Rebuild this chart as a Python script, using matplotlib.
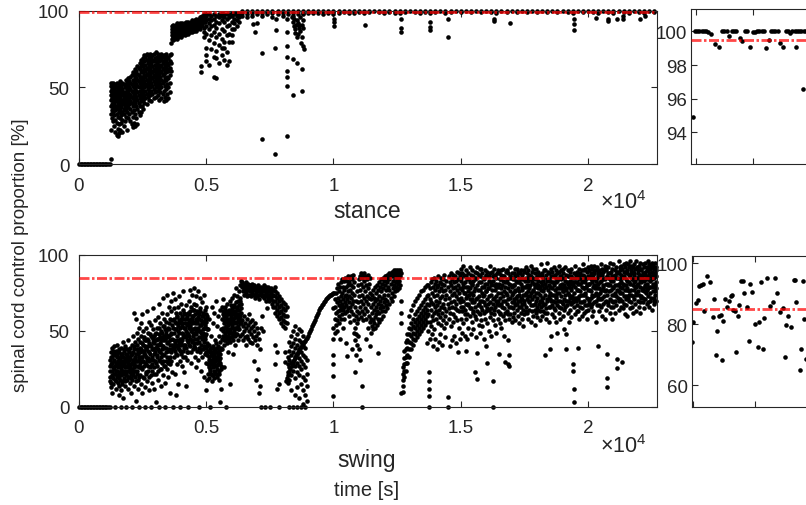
import matplotlib.pyplot as plt

plt.rcParams['font.family'] = ['Liberation Sans', 'DejaVu Sans']
plt.rcParams['mathtext.default'] = 'regular'

# Thresholds (red dash-dot lines)
STANCE_LIMIT = 99.5
SWING_LIMIT = 85

# ---- stance: spinal cord control proportion [%] vs time [s] ----
# each entry: (time, [proportions read at that time])
stance_idle_t = [0, 60, 120, 180, 240, 300, 360, 420, 480, 540, 600, 660, 720,
                 780, 840, 900, 960, 1020, 1080, 1140, 1200]
stance_first = [
    (1250, [3, 22, 33, 38, 42, 45, 48, 51, 53]), (1300, [30, 35, 39, 43, 46, 49, 52]),
    (1340, [28, 34, 37, 41, 44, 47, 50, 53]), (1390, [25, 32, 36, 40, 43, 46, 49, 52]),
    (1430, [21, 29, 35, 38, 42, 45, 48, 51]), (1480, [19, 27, 33, 37, 41, 44, 47, 50, 53]),
    (1520, [18, 23, 31, 36, 39, 43, 46, 49]), (1570, [20, 26, 34, 38, 41, 44, 48, 52]),
    (1610, [22, 30, 35, 40, 43, 46, 50, 54]), (1660, [27, 32, 37, 41, 45, 48, 51]),
    (1700, [21, 29, 34, 39, 42, 46, 49, 53]), (1750, [25, 33, 36, 40, 44, 47, 52]),
    (1790, [28, 35, 38, 42, 45, 50]), (1840, [31, 36, 40, 43, 47, 51, 55]),
    (1890, [22, 34, 38, 41, 45, 49, 53]), (1930, [30, 37, 40, 44, 48, 52, 56]),
    (1980, [33, 39, 43, 46, 50, 54]), (2020, [28, 36, 41, 45, 49, 53, 57]),
    (2070, [26, 34, 40, 44, 48, 52, 58]), (2110, [24, 31, 38, 43, 47, 51, 55, 60]),
    (2160, [27, 35, 42, 46, 50, 54, 59]), (2200, [25, 33, 40, 45, 49, 53, 57, 62]),
    (2250, [30, 38, 44, 48, 52, 56, 61]), (2290, [26, 36, 42, 47, 51, 55, 59, 64]),
    (2340, [34, 40, 45, 50, 54, 58, 63]), (2380, [32, 38, 43, 48, 53, 57, 62, 66]),
]
stance_second = [
    (2430, [34, 41, 46, 51, 55, 60, 64, 68]), (2480, [38, 44, 49, 53, 57, 61, 66]),
    (2520, [36, 42, 47, 52, 56, 60, 64, 69]), (2570, [40, 45, 50, 54, 58, 62, 67, 71]),
    (2610, [43, 48, 52, 57, 61, 65, 70]), (2660, [39, 46, 51, 55, 59, 63, 68, 72]),
    (2700, [44, 49, 53, 58, 62, 66, 71]), (2750, [42, 47, 52, 56, 60, 64, 69]),
    (2790, [45, 50, 55, 59, 63, 67, 72]), (2840, [41, 48, 53, 57, 61, 66, 70]),
    (2880, [46, 51, 56, 60, 64, 68, 71]), (2930, [43, 49, 54, 58, 62, 67, 72]),
    (2970, [47, 52, 57, 61, 65, 69]), (3020, [44, 50, 55, 59, 63, 68, 73]),
    (3060, [48, 53, 58, 62, 66, 70]), (3110, [45, 51, 56, 60, 64, 69, 72]),
    (3150, [42, 49, 54, 59, 63, 67, 71]), (3200, [47, 52, 57, 61, 65, 70]),
    (3240, [43, 50, 55, 60, 64, 68, 72]), (3290, [46, 53, 58, 62, 66, 70]),
    (3330, [41, 48, 54, 59, 63, 67, 71]), (3380, [44, 51, 56, 61, 65, 69]),
    (3420, [42, 49, 55, 60, 64, 68, 72]), (3470, [46, 52, 57, 62, 66, 70]),
    (3510, [43, 50, 56, 61, 65, 69]), (3560, [47, 53, 58, 63, 67, 71]),
    (3610, [61, 66, 72, 79]),
]
stance_plateau = [
    (3650, [82, 84, 86, 88, 90]), (3700, [81, 83, 85, 87, 89, 91]), (3750, [82, 84, 86, 88, 90]),
    (3800, [83, 85, 87, 89, 91]), (3850, [82, 84, 86, 88, 90, 92]), (3900, [83, 85, 87, 89, 91]),
    (3950, [84, 86, 88, 90, 92]), (4000, [83, 85, 87, 89, 91]), (4050, [84, 86, 88, 90, 92]),
    (4100, [85, 87, 89, 91]), (4150, [84, 86, 88, 90, 92]), (4200, [85, 87, 89, 91, 93]),
    (4250, [86, 88, 90, 92]), (4300, [85, 87, 89, 91, 93]), (4350, [86, 88, 90, 92]),
    (4400, [87, 89, 91, 93]), (4450, [86, 88, 90, 92, 94]), (4500, [87, 89, 91, 93]),
    (4550, [88, 90, 92, 94]), (4600, [87, 89, 91, 93, 95]), (4650, [88, 90, 92, 94]),
    (4700, [89, 91, 93, 95]), (4750, [88, 90, 92, 94, 96]), (4800, [64, 60, 90, 92, 94, 96]),
    (4850, [91, 93, 95, 97]), (4900, [83, 86, 89, 93, 96, 98]), (4950, [93, 95, 97]),
    (5000, [76, 71, 67, 85, 90, 94, 97, 98]), (5100, [65, 81, 88, 92, 95, 98]),
    (5200, [75, 84, 90, 94, 97]), (5300, [57, 70, 79, 86, 91, 95, 98]),
    (5400, [69, 56, 74, 83, 89, 93, 97]), (5500, [66, 78, 85, 92, 96, 98]),
    (5600, [71, 76, 82, 88, 94, 97, 99]), (5700, [76, 68, 80, 87, 93, 96, 98]),
    (5800, [65, 73, 84, 90, 95, 98]), (5900, [67, 80, 85, 91, 96, 98]),
    (6000, [80, 84, 88, 93, 97, 99]), (6100, [88, 92, 95, 98, 99]),
    (6200, [90, 94, 97, 99]), (6300, [93, 96, 98, 99]),
]
stance_steady = [
    (6400, [97, 99, 100]), (6600, [96, 98, 100]), (6800, [97, 99, 100]), (7000, [98, 99.5, 100]),
    (7200, [97, 99, 100]), (7400, [98, 99.5, 100]), (7600, [96, 99, 100]), (7800, [98, 100]),
    (8000, [97, 99, 100]), (8200, [98, 100]), (8400, [97, 99, 100]), (8600, [98, 100]),
    (8800, [98, 99, 100]), (9000, [99, 100]), (9200, [98.5, 100]), (9400, [99, 100]),
    (9600, [98, 100]), (9800, [99, 100]), (10000, [98, 99.5, 100]), (10200, [99, 100]),
    (10400, [99.5, 100]), (10600, [99, 100]), (10800, [98.5, 100]), (11000, [99.5, 100]),
    (11200, [99, 100]), (11400, [99.5, 100]), (11600, [100]), (11800, [99.5, 100]),
    (12000, [99, 100]), (12200, [99.5, 100]), (12400, [99, 100]), (12600, [98.5, 100]),
    (12800, [99.5, 100]), (13000, [100]), (13200, [99.5, 100]), (13400, [99, 100]),
    (13600, [99.5, 100]), (13800, [98.5, 100]), (14000, [99.5, 100]), (14200, [100]),
    (14400, [99, 100]), (14600, [99.5, 100]), (14800, [100]), (15000, [99.5, 100]),
    (15200, [100]), (15400, [99.5, 100]), (15600, [100]), (15800, [99.5, 100]),
    (16000, [100]), (16200, [99.5, 100]), (16400, [99, 100]), (16600, [100]),
    (16800, [99.5, 100]), (17000, [100]), (17200, [99.5, 100]), (17400, [100]),
    (17600, [99.5, 100]), (17800, [100]), (18000, [99.5, 100]), (18200, [100]),
    (18400, [99.5, 100]), (18600, [100]), (18800, [99.5, 100]), (19000, [100]),
    (19200, [99.5, 100]), (19400, [99, 100]), (19600, [100]), (19800, [99.5, 100]),
    (20000, [100]), (20200, [99.5, 100]), (20400, [99, 100]), (20600, [100]),
    (20800, [99.5, 100]), (21000, [99, 100]), (21200, [100]), (21400, [99.5, 100]),
    (21600, [99, 100]), (21800, [100]), (22000, [99.5, 100]), (22200, [99, 100]),
    (22400, [100]), (22600, [99.5, 100]),
]
stance_dips = [
    (6850, 91.5), (6930, 86), (7000, 92), (7210, 72.3), (7210, 16.3), (7700, 6.5),
    (7720, 76), (7750, 87.6), (7750, 95), (8180, 18.6), (8180, 50.8), (8180, 57),
    (8180, 61), (8180, 70), (8180, 77), (8180, 86), (8180, 95), (8350, 96),
    (8400, 93), (8420, 68.5), (8420, 45), (8450, 90), (8450, 95), (8480, 85.5),
    (8500, 88), (8530, 91), (8550, 66), (8550, 94), (8560, 82.8), (8600, 85),
    (8600, 92), (8650, 91), (8650, 89), (8700, 87), (8700, 96), (8740, 79),
    (8750, 83), (8750, 91), (8770, 62), (8770, 47.6), (8800, 77), (8800, 89),
    (8800, 94), (8830, 75), (10020, 90.4), (10020, 93), (10020, 95), (11230, 90.8),
    (12650, 86.5), (12650, 88.7), (12650, 94.8), (13800, 87.8), (13800, 89.5),
    (13800, 92.6), (14490, 83.2), (14490, 95), (16300, 93.7), (16300, 95),
    (16940, 92), (19460, 87.8), (19460, 91.5), (19460, 94.8), (20300, 95.4),
    (20770, 93.7), (20770, 95), (21120, 95), (21380, 95), (21380, 97),
    (22040, 95), (22240, 97),
]

# ---- swing ----
swing_idle_t = [0, 60, 120, 180, 240, 300, 360, 420, 480, 540, 600, 660, 720,
                780, 840, 900, 960, 1020, 1080, 1140, 1200]
swing_early = [
    (1215, [24, 31, 17]), (1248, [36, 28, 13]), (1290, [21, 39, 33, 9]), (1326, [26, 15, 35]),
    (1361, [30, 22, 40]), (1402, [18, 34, 27, 0]), (1437, [37, 24, 12]), (1476, [29, 20, 41, 33]),
    (1518, [16, 26, 36]), (1553, [32, 23, 8]), (1591, [38, 19, 28, 14]), (1634, [25, 34, 0]),
    (1668, [21, 30, 39, 11]), (1707, [27, 17, 35]), (1745, [33, 24, 43, 6]), (1788, [19, 29, 37]),
    (1822, [26, 14, 32, 40]), (1864, [35, 22, 0]), (1899, [18, 30, 27, 38]), (1941, [24, 33, 12, 44]),
    (1976, [31, 20, 36]), (2017, [16, 27, 39, 25]), (2053, [34, 22, 9]), (2094, [29, 41, 18, 0]),
    (2130, [23, 36, 47, 31]), (2171, [38, 26, 14, 62]), (2209, [20, 32, 43]), (2248, [35, 27, 4, 58]),
    (2287, [41, 24, 30, 49]), (2325, [18, 37, 45, 12]), (2366, [33, 26, 52, 0]),
    (2402, [29, 43, 21, 36]), (2440, [47, 15, 38, 55]), (2479, [25, 33, 9, 61]), (2517, [41, 30, 50]),
    (2556, [19, 36, 27, 46]), (2598, [34, 44, 13, 0]), (2633, [28, 52, 39, 22]), (2672, [45, 31, 63, 17]),
    (2713, [37, 24, 49]), (2750, [30, 42, 11, 56]), (2789, [48, 35, 26]), (2829, [21, 40, 54, 0]),
    (2866, [33, 46, 28, 16]), (2907, [43, 38, 65, 51]), (2945, [26, 35, 12, 47]), (2984, [39, 30, 57]),
    (3023, [44, 22, 49, 3]), (3062, [34, 52, 27, 41]), (3101, [18, 45, 38, 59]), (3140, [31, 48, 0, 68]),
    (3179, [42, 25, 55, 36]), (3218, [50, 33, 14, 44]), (3257, [38, 46, 29, 62]), (3296, [53, 21, 40, 72]),
    (3335, [34, 47, 58, 27]), (3374, [44, 16, 51, 0]), (3413, [30, 56, 39, 48]), (3452, [46, 25, 61, 74]),
    (3491, [37, 52, 20, 43]), (3530, [55, 31, 47, 66]), (3569, [41, 28, 58, 9]), (3608, [49, 36, 63, 70]),
    (3647, [23, 45, 54, 38]), (3686, [52, 40, 0, 75]),
]
swing_early_fill = [
    (1230, [27, 20]), (1270, [33, 16]), (1310, [24, 29]), (1345, [19, 37]), (1382, [31, 25]),
    (1420, [22, 35]), (1457, [28, 17]), (1497, [34, 24]), (1535, [21, 30]), (1572, [27, 36]),
    (1612, [18, 32]), (1650, [29, 23]), (1688, [35, 15]), (1726, [22, 30]), (1766, [28, 38]),
    (1805, [24, 17]), (1843, [31, 21]), (1882, [26, 34]), (1920, [20, 29]), (1958, [37, 27]),
    (1997, [23, 32]), (2035, [28, 19]), (2074, [35, 25]), (2112, [21, 30]), (2150, [28, 40]),
    (2190, [33, 24]), (2228, [17, 30]), (2268, [38, 22]), (2306, [27, 35]), (2345, [31, 20]),
    (2384, [39, 26]), (2421, [33, 26]), (2460, [42, 30]), (2498, [20, 37]), (2537, [35, 45]),
    (2577, [29, 40]), (2615, [23, 38]), (2652, [33, 44]), (2692, [27, 40]), (2731, [44, 32]),
    (2770, [36, 20]), (2809, [41, 31]), (2848, [27, 47]), (2886, [38, 24]), (2926, [31, 45]),
    (2964, [42, 22]), (3004, [36, 48]), (3043, [29, 39]), (3082, [45, 33]), (3120, [24, 41]),
    (3160, [37, 52]), (3199, [30, 46]), (3238, [41, 25]), (3277, [35, 49]), (3316, [44, 30]),
    (3355, [39, 53]), (3394, [27, 45]), (3433, [50, 36]), (3472, [33, 42]), (3511, [47, 29]),
    (3550, [38, 51]), (3589, [44, 33]), (3628, [30, 48]), (3667, [41, 57]),
]
swing_middle = [
    (3725, [44, 58, 33, 65]), (3762, [51, 37, 22, 71]), (3801, [40, 55, 62, 8]), (3840, [47, 34, 59, 28]),
    (3879, [53, 41, 66, 15]), (3918, [38, 57, 49, 73]), (3957, [45, 30, 62, 0]), (3996, [56, 42, 35, 68]),
    (4035, [49, 60, 27, 53]), (4074, [37, 46, 64, 76]), (4113, [58, 41, 52, 23]), (4152, [33, 55, 47, 61]),
    (4191, [50, 39, 67, 14]), (4230, [44, 59, 31, 54]), (4269, [62, 48, 36, 0]), (4308, [41, 57, 70, 52]),
    (4347, [53, 45, 63, 77]), (4386, [36, 50, 58, 29]), (4425, [60, 43, 55, 74]), (4464, [47, 64, 38, 51]),
    (4503, [56, 40, 68, 78]), (4542, [33, 52, 61, 45]), (4581, [58, 48, 26, 73]), (4620, [42, 63, 55, 37]),
    (4659, [50, 59, 31, 76]), (4698, [46, 61, 39, 0]), (4737, [54, 36, 65, 72]), (4776, [41, 57, 49, 24]),
    (4815, [60, 45, 33, 69]), (4854, [51, 38, 62, 56]), (4893, [43, 55, 20, 74]), (4932, [58, 47, 35, 64]),
    (4971, [39, 52, 61, 11]), (5010, [48, 56, 29, 66]), (5049, [42, 34, 60, 18]),
    (5088, [28, 37, 22, 51]), (5127, [33, 19, 41, 58]), (5166, [25, 36, 30, 0]), (5205, [39, 22, 28, 47]),
    (5244, [31, 17, 35, 66]), (5283, [26, 40, 21, 55]), (5322, [34, 29, 19, 62]), (5361, [23, 38, 32, 44]),
    (5400, [36, 27, 42, 70]), (5439, [20, 31, 25, 53]), (5478, [40, 34, 28, 60]), (5517, [24, 37, 18, 47]),
    (5556, [32, 43, 3, 64]), (5595, [27, 39, 51, 12]),
    (5634, [45, 58, 38, 66]), (5673, [52, 63, 47, 71]), (5712, [41, 55, 60, 26]), (5751, [49, 66, 57, 44]),
    (5790, [62, 46, 53, 0]), (5829, [56, 42, 68, 50]), (5868, [47, 61, 54, 36]), (5907, [64, 51, 58, 44]),
    (5946, [43, 57, 70, 15]), (5985, [60, 49, 55, 67]), (6024, [53, 65, 46, 72]), (6063, [58, 44, 61, 35]),
    (6102, [50, 67, 56, 74]), (6141, [63, 47, 59, 41]), (6180, [55, 69, 52, 78]), (6219, [61, 48, 66, 73]),
    (6258, [57, 70, 53, 44]), (6297, [64, 51, 76, 59]), (6336, [60, 72, 80, 47]), (6375, [68, 55, 83, 62]),
    (6414, [79, 82, 48, 57]), (6453, [76, 81, 53, 44]), (6492, [78, 74, 60, 50]), (6531, [80, 77, 46, 55]),
    (6570, [75, 82, 52, 41]), (6609, [79, 73, 58, 47]), (6648, [77, 81, 45, 54]), (6687, [74, 79, 50, 61]),
    (6726, [80, 76, 43, 56]), (6765, [78, 73, 52, 48]), (6804, [75, 81, 57, 42]), (6843, [79, 77, 46, 53]),
    (6882, [74, 80, 50, 30]), (6921, [77, 72, 55, 44]), (6960, [79, 75, 47, 18]), (6999, [73, 78, 52, 41]),
    (7038, [76, 80, 25, 49]), (7077, [74, 71, 45, 9]), (7116, [78, 76, 38, 14]), (7155, [75, 79, 52, 0]),
    (7194, [77, 73, 60]), (7233, [74, 78, 50]), (7272, [76, 72, 80]), (7311, [73, 77, 0]),
    (7350, [75, 79, 70]), (7389, [74, 77, 65]), (7428, [72, 76, 79]), (7467, [74, 70, 77]),
    (7506, [73, 76, 0]), (7545, [71, 75, 78]), (7584, [68, 73, 77]), (7620, [66, 70, 74, 77]),
    (7700, [28, 41, 62, 66, 70, 73, 76, 79]), (7780, [12, 36, 60, 64, 68, 72, 75]),
    (7860, [0, 15, 58, 62, 66, 70, 73]), (7940, [55, 59, 63, 67, 71]),
    (8020, [53, 57, 61, 65, 69]), (8100, [29.5, 36, 52, 56, 60, 64, 68]),
    (8180, [55, 60, 66]), (8200, [16, 23, 28, 33]), (8260, [0, 18, 26, 31, 37, 43]),
    (8340, [11, 21, 29, 34, 40, 47]), (8420, [0, 24, 30, 36, 42, 50]),
    (8500, [8, 19, 27, 33, 39, 45, 53]), (8580, [0, 13, 23, 29, 35, 41, 48]),
    (8660, [6, 21, 27, 32, 38, 44, 51]), (8740, [0, 15, 25, 30, 36, 43, 50]),
    (8820, [2, 11, 20, 28, 34, 40, 47]), (8900, [0, 8, 18, 26, 33, 39]),
    (8960, [4, 14, 22, 31]),
]
swing_middle_fill = [
    (3745, [49, 38]), (3782, [56, 42]), (3820, [35, 51]), (3860, [44, 60]), (3899, [50, 39]),
    (3938, [43, 55]), (3977, [52, 37]), (4016, [41, 58]), (4055, [55, 44]), (4094, [48, 33]),
    (4133, [39, 62]), (4172, [52, 41]), (4211, [58, 46]), (4250, [36, 49]), (4289, [55, 43]),
    (4328, [47, 61]), (4367, [40, 56]), (4406, [51, 66]), (4445, [44, 58]), (4484, [60, 49]),
    (4523, [42, 64]), (4562, [55, 39]), (4601, [50, 67]), (4640, [45, 56]), (4679, [62, 52]),
    (4718, [43, 58]), (4757, [50, 63]), (4796, [38, 54]), (4835, [56, 47]), (4874, [49, 60]),
    (4913, [40, 52]), (4952, [54, 45]), (4991, [36, 58]), (5030, [51, 40]),
    (5108, [26, 31]), (5147, [38, 24]), (5186, [29, 34]), (5225, [21, 36]), (5264, [33, 27]),
    (5303, [24, 38]), (5342, [30, 36]), (5381, [27, 22]), (5420, [33, 39]), (5459, [28, 36]),
    (5498, [22, 31]), (5537, [35, 29]), (5576, [25, 38]),
    (5654, [50, 61]), (5693, [44, 57]), (5732, [52, 64]), (5771, [47, 60]), (5810, [58, 51]),
    (5849, [45, 63]), (5888, [55, 49]), (5927, [50, 62]), (5966, [57, 46]), (6005, [52, 63]),
    (6044, [48, 58]), (6083, [55, 66]), (6122, [52, 61]), (6161, [59, 48]), (6200, [56, 64]),
    (6239, [51, 60]), (6278, [61, 67]), (6317, [55, 70]), (6356, [65, 57]),
]
# the smooth recovery arc between ~8.1e3 s and 1e4 s
swing_arc = [
    (8150, 17), (8190, 19), (8230, 21), (8270, 23), (8310, 25), (8350, 27), (8390, 29),
    (8430, 31), (8470, 32.5), (8510, 34), (8550, 35), (8590, 36.5), (8630, 37.5),
    (8670, 38.5), (8710, 39.5), (8750, 40.5), (8790, 41.5), (8830, 42.5), (8870, 43.5),
    (8910, 44.5), (8950, 45.5), (8990, 47), (9030, 48.5), (9070, 50), (9110, 51.5),
    (9150, 53), (9190, 54.5), (9230, 56), (9270, 57.5), (9310, 59), (9350, 60.5),
    (9390, 62), (9430, 63.5), (9470, 65), (9510, 66), (9550, 67), (9590, 68),
    (9630, 69), (9670, 70), (9710, 70.8), (9750, 71.5), (9790, 72.2), (9830, 72.9),
    (9870, 73.5), (9910, 74), (9950, 74.5), (9990, 75), (10020, 75.3),
]
swing_late = [
    (10000, [7.5, 20.6, 28, 34, 45, 52, 65]), (10040, [58, 49, 66, 71]), (10080, [62, 54, 75]),
    (10120, [69, 57, 78, 50]), (10160, [63, 72, 81]), (10200, [55, 67, 76, 60]),
    (10240, [70, 64, 79, 45]), (10280, [58, 73, 82, 66]), (10320, [75, 61, 68, 84]),
    (10360, [52, 71, 79, 64]), (10400, [77, 66, 83, 58]), (10440, [62, 73, 85, 69]),
    (10480, [79, 42, 67, 74]), (10520, [33.8, 71, 83, 63]), (10560, [76, 65, 86, 80]),
    (10600, [69, 82, 73, 60]), (10640, [85, 56, 77, 66]), (10680, [72, 80, 63, 86]),
    (10720, [38, 75, 84, 68]), (10760, [79, 70, 87, 61]), (10800, [57, 82, 74, 49]),
    (10840, [66, 52, 44, 23.3]), (10880, [60, 34, 70, 48]), (10920, [55, 63, 76, 41]),
    (10960, [69, 58, 80, 47]), (11000, [62, 73, 84, 38]), (11040, [77, 66, 31, 86]),
    (11080, [70, 81, 59, 88]), (11120, [74, 63, 85, 0, 13.6]), (11160, [79, 68, 87, 57]),
    (11200, [83, 72, 61, 88]), (11240, [76, 86, 65]), (11280, [58, 80, 70, 45]),
    (11320, [84, 73, 63]), (11360, [68, 78, 52, 87]), (11400, [81, 60, 72]),
    (11440, [56, 75, 85, 40]), (11480, [49, 58, 66, 71]), (11520, [53, 62, 74]),
    (11560, [57, 51, 68, 77]), (11600, [64, 55, 72]), (11640, [59, 70, 52, 79]),
    (11680, [66, 75, 61]), (11720, [54, 63, 71, 80]), (11760, [35.5, 68, 58, 77]),
    (11800, [62, 73, 82, 56]), (11840, [70, 65, 79]), (11880, [58, 76, 67, 84]),
    (11920, [72, 63, 81]), (11960, [66, 78, 60, 85]), (12000, [74, 69, 83]),
    (12040, [63, 80, 71, 86]), (12080, [77, 67, 84]), (12120, [70, 82, 65, 87]),
    (12160, [79, 74, 86]), (12200, [68, 84, 77, 88]), (12240, [81, 72, 87]),
    (12280, [75, 86, 70, 89]), (12320, [83, 78, 89]), (12360, [73, 87, 80, 90]),
    (12400, [85, 76, 89]), (12440, [79, 88, 82, 90]), (12480, [77, 86, 84]),
    (12520, [81, 89, 85, 90]), (12560, [78, 87, 83]), (12600, [86, 80, 89, 90]),
    (12640, [9, 55, 62, 70, 88]),
    (12720, [10, 14, 18, 22, 26]), (12780, [20, 24, 28, 32, 37]),
    (12840, [24, 29, 33, 38, 43]), (12900, [29, 34, 39, 44, 48]),
    (12960, [33, 38, 43, 48, 52, 60]), (13040, [38, 42, 47, 51, 55, 64]),
    (13120, [41, 45, 49, 53, 58, 67]), (13200, [44, 48, 52, 56, 61, 70]),
    (13280, [46, 50, 54, 58, 63, 72]), (13360, [48, 52, 56, 60, 65, 74]),
    (13440, [50, 54, 58, 62, 67, 76]), (13520, [52, 56, 60, 64, 69, 77]),
    (13600, [54, 58, 62, 66, 71, 79]), (13680, [42, 56, 60, 64, 68, 73, 80]),
    (13720, [61, 74, 50, 80]), (13760, [0, 7.5, 11.9, 17.4, 22.8, 67]), (13800, [56, 71, 78, 45]),
    (13840, [64, 53, 82, 69]), (13880, [75, 60, 48, 84]), (13920, [68, 40, 79, 57]),
    (13960, [62, 73, 85, 51]), (14000, [77, 66, 45, 81]), (14040, [58, 70, 83, 63]),
    (14080, [74, 38, 67, 79]), (14120, [61, 80, 55, 86]), (14160, [69, 43, 76, 64]),
    (14200, [82, 72, 59, 48]), (14240, [66, 78, 54, 85]), (14280, [73, 62, 81, 41]),
    (14320, [57, 76, 68, 84]), (14360, [80, 65, 52, 87]), (14400, [71, 46, 77, 60]),
    (14440, [63, 83, 74, 55]), (14490, [0, 6.4, 68, 79]), (14520, [58, 72, 86, 65]),
    (14560, [76, 40, 62, 82]), (14600, [69, 80, 53, 88]), (14640, [74, 44, 66, 84]),
    (14680, [61, 78, 87, 56]), (14720, [82, 70, 47, 75]), (14760, [65, 86, 59, 79]),
    (14800, [73, 42, 83, 68]), (14840, [57, 77, 89, 64]), (14880, [36, 71, 84, 80]),
    (14920, [63, 75, 88, 52]), (14960, [78, 45, 69, 86]),
]
swing_final = [
    (15000, [72, 58, 85, 66, 91]), (15050, [49, 77, 63, 88]), (15100, [81, 55, 70, 93]),
    (15150, [64, 86, 47, 75]), (15200, [37, 79, 68, 90, 58]), (15250, [45, 73, 84, 61]),
    (15300, [88, 52, 76, 67]), (15350, [60, 82, 71, 92]), (15400, [75, 48, 87, 65]),
    (15450, [69, 90, 56, 80]), (15500, [83, 62, 74, 51]), (15550, [22.8, 78, 66, 89]),
    (15600, [58, 85, 71, 46]), (15650, [18.4, 35.5, 80, 63, 92]), (15700, [73, 54, 87, 68]),
    (15750, [86, 61, 77, 49]), (15800, [66, 91, 57, 82]), (15850, [79, 70, 88, 53]),
    (15900, [62, 84, 74, 45]), (15950, [90, 67, 58, 81]), (16000, [40, 76, 86, 63]),
    (16050, [29, 71, 55, 89]), (16100, [83, 64, 78, 50]), (16150, [59, 88, 69, 93]),
    (16200, [74, 47, 82, 65]), (16250, [0, 17, 68, 86, 57]), (16300, [80, 61, 91, 72]),
    (16350, [54, 77, 66, 87]), (16400, [85, 70, 49, 79]), (16450, [63, 90, 75, 58]),
    (16500, [35, 81, 67, 88]), (16550, [72, 55, 84, 62]), (16600, [87, 68, 78, 52]),
    (16650, [60, 83, 73, 91]), (16700, [76, 47, 86, 65]), (16750, [29.5, 70, 82, 57]),
    (16800, [84, 63, 74, 90]), (16850, [28.5, 44, 78, 88]), (16900, [27, 34, 66, 81, 58]),
    (16950, [72, 86, 61, 92]), (17000, [79, 56, 69, 88]), (17050, [65, 84, 75, 59]),
    (17100, [88, 71, 62, 80]), (17150, [57, 77, 86, 67]), (17200, [82, 64, 73, 91]),
    (17250, [70, 89, 60, 78]), (17300, [85, 66, 76, 55]), (17350, [62, 81, 72, 90]),
    (17400, [77, 58, 87, 68]), (17450, [53, 74, 84, 64]), (17500, [89, 70, 79, 61]),
    (17550, [66, 85, 75, 92]), (17600, [80, 62, 71, 88]), (17650, [73, 90, 58, 83]),
    (17700, [64, 78, 87, 69]), (17750, [86, 56, 75, 93]), (17800, [71, 82, 63, 89]),
    (17850, [60, 76, 85, 67]), (17900, [84, 68, 79, 54]), (17950, [75, 91, 62, 81]),
    (18000, [66, 86, 72, 59]), (18050, [89, 78, 64, 83]), (18100, [57, 74, 87, 70]),
    (18150, [82, 94, 66, 77]), (18200, [69, 80, 60, 88]), (18250, [76, 63, 85, 72]),
    (18300, [34.3, 90, 68, 81]), (18350, [58, 79, 87, 65]), (18400, [84, 71, 95, 62]),
    (18450, [73, 88, 56, 80]), (18500, [38, 66, 83, 75]), (18550, [47, 86, 70, 91]),
    (18600, [61, 78, 67, 89]), (18650, [82, 74, 59, 92]), (18700, [69, 87, 77, 64]),
    (18750, [85, 56, 72, 90]), (18800, [75, 67, 83, 49]), (18850, [62, 89, 78, 93]),
    (18900, [80, 70, 86, 58]), (18950, [73, 84, 65, 90]), (19000, [88, 60, 76, 68]),
    (19050, [51, 79, 85, 71]), (19100, [83, 66, 92, 74]), (19150, [38, 48, 77, 87]),
    (19200, [70, 81, 62, 90]), (19250, [86, 74, 56, 79]), (19300, [64, 89, 72, 83]),
    (19350, [78, 59, 86, 68]), (19400, [24, 28.5, 82, 71]), (19450, [3.2, 11.9, 66, 88, 75]),
    (19500, [85, 61, 79, 93]), (19550, [72, 89, 67, 82]), (19600, [39, 77, 86, 63]),
    (19650, [58, 84, 73, 91]), (19700, [81, 69, 88, 76]), (19750, [65, 90, 79, 60]),
    (19800, [87, 74, 83, 94]), (19850, [70, 62, 86, 78]), (19900, [84, 91, 67, 75]),
    (19950, [58, 80, 89, 72]), (20000, [77, 86, 64, 92]), (20050, [90, 71, 81, 68]),
    (20100, [66, 84, 76, 88]), (20150, [82, 60, 91, 74]), (20200, [73, 87, 79, 63]),
    (20250, [88, 69, 84, 93]), (20300, [56, 80, 75, 90]), (20350, [85, 67, 92, 78]),
    (20400, [40, 74, 88, 81]), (20450, [63, 90, 71, 86]), (20500, [83, 77, 94, 66]),
    (20550, [72, 87, 60, 91]), (20600, [89, 79, 68, 84]), (20650, [58, 85, 76, 93]),
    (20700, [81, 70, 90, 64]), (20750, [13, 19, 34.9, 86, 74]), (20800, [67, 92, 80, 88]),
    (20850, [84, 71, 95, 62]), (20900, [77, 89, 66, 83]), (20950, [91, 74, 86, 58]),
    (21000, [69, 83, 78, 94]), (21050, [87, 62, 90, 75]), (21100, [73, 85, 67, 92]),
    (21150, [25.4, 31.6, 80, 89]), (21200, [64, 88, 76, 96]), (21250, [90, 71, 84, 79]),
    (21300, [82, 93, 66, 87]), (21350, [29.5, 75, 91, 70]), (21400, [86, 68, 80, 94]),
    (21450, [61, 89, 77, 92]), (21500, [84, 73, 95, 67]), (21550, [78, 90, 83, 60]),
    (21600, [92, 70, 87, 76]), (21650, [65, 86, 81, 96]), (21700, [88, 74, 93, 69]),
    (21750, [80, 62, 89, 84]), (21800, [94, 77, 71, 87]), (21850, [68, 91, 83, 79]),
    (21900, [85, 75, 96, 63]), (21950, [90, 81, 70, 88]), (22000, [74, 93, 86, 66]),
    (22050, [87, 62, 79, 95]), (22100, [82, 91, 72, 85]), (22150, [69, 88, 94, 78]),
    (22200, [92, 76, 83, 65]), (22250, [80, 95, 71, 89]), (22300, [86, 68, 92, 77]),
    (22350, [73, 90, 84, 96]), (22400, [94, 79, 66, 88]), (22450, [83, 91, 75, 70]),
    (22500, [89, 64, 86, 95]), (22550, [76, 93, 81, 87]), (22600, [91, 72, 85, 68]),
    (22650, [80, 95, 88, 76]), (22690, [86, 70, 92, 82]),
]
swing_final_fill = [
    (15025, [70, 83]), (15075, [66, 79]), (15125, [75, 87]), (15175, [61, 82]), (15225, [72, 86]),
    (15275, [68, 79]), (15325, [84, 74]), (15375, [65, 78]), (15425, [81, 71]), (15475, [63, 86]),
    (15525, [76, 69]), (15575, [84, 60]), (15625, [72, 88]), (15675, [67, 77]), (15725, [82, 62]),
    (15775, [70, 91]), (15825, [75, 64]), (15875, [85, 73]), (15925, [69, 79]), (15975, [76, 87]),
    (16025, [65, 81]), (16075, [78, 68]), (16125, [86, 73]), (16175, [62, 80]), (16225, [77, 89]),
    (16275, [71, 83]), (16325, [64, 86]), (16375, [81, 73]), (16425, [68, 88]), (16475, [79, 70]),
    (16525, [84, 61]), (16575, [75, 90]), (16625, [66, 80]), (16675, [86, 70]), (16725, [62, 79]),
    (16775, [75, 89]), (16825, [68, 82]), (16875, [71, 61]), (16925, [85, 76]), (16975, [66, 80]),
    (17025, [74, 85]), (17075, [69, 80]), (17125, [76, 91]), (17175, [72, 83]), (17225, [87, 68]),
    (17275, [74, 82]), (17325, [70, 88]), (17375, [84, 66]), (17425, [79, 71]), (17475, [68, 90]),
    (17525, [74, 83]), (17575, [63, 79]), (17625, [85, 76]), (17675, [70, 86]), (17725, [80, 73]),
    (17775, [67, 84]), (17825, [77, 91]), (17875, [73, 81]), (17925, [88, 64]), (17975, [70, 85]),
    (18025, [80, 75]), (18075, [68, 87]), (18125, [79, 63]), (18175, [72, 86]), (18225, [83, 67]),
    (18275, [78, 90]), (18325, [74, 62]), (18375, [83, 70]), (18425, [77, 89]), (18475, [66, 84]),
    (18525, [79, 71]), (18575, [74, 82]), (18625, [86, 70]), (18675, [65, 80]), (18725, [82, 73]),
    (18775, [78, 88]), (18825, [70, 84]), (18875, [75, 66]), (18925, [86, 78]), (18975, [69, 81]),
    (19025, [76, 91]), (19075, [64, 80]), (19125, [78, 70]), (19175, [82, 67]), (19225, [75, 86]),
    (19275, [69, 81]), (19325, [77, 91]), (19375, [73, 85]), (19425, [80, 69]), (19475, [82, 72]),
    (19525, [70, 87]), (19575, [77, 63]), (19625, [81, 71]), (19675, [66, 87]), (19725, [74, 84]),
    (19775, [82, 69]), (19825, [78, 90]), (19875, [74, 82]), (19925, [79, 63]), (19975, [85, 67]),
    (20025, [70, 81]), (20075, [77, 86]), (20125, [72, 93]), (20175, [86, 68]), (20225, [80, 90]),
    (20275, [74, 78]), (20325, [83, 70]), (20375, [72, 87]), (20425, [78, 67]), (20475, [82, 75]),
    (20525, [71, 88]), (20575, [80, 77]), (20625, [73, 90]), (20675, [84, 69]), (20725, [77, 92]),
    (20775, [69, 81]), (20825, [76, 85]), (20875, [80, 88]), (20925, [70, 84]), (20975, [79, 66]),
    (21025, [86, 74]), (21075, [80, 70]), (21125, [77, 88]), (21175, [72, 85]), (21225, [81, 70]),
    (21275, [75, 92]), (21325, [85, 78]), (21375, [81, 65]), (21425, [73, 89]), (21475, [80, 71]),
    (21525, [88, 77]), (21575, [72, 94]), (21625, [82, 74]), (21675, [77, 90]), (21725, [84, 66]),
    (21775, [73, 92]), (21825, [82, 88]), (21875, [74, 79]), (21925, [80, 92]), (21975, [76, 85]),
    (22025, [83, 69]), (22075, [90, 73]), (22125, [77, 86]), (22175, [84, 72]), (22225, [87, 79]),
    (22275, [75, 84]), (22325, [81, 90]), (22375, [78, 69]), (22425, [86, 93]), (22475, [79, 72]),
    (22525, [84, 92]), (22575, [70, 79]), (22625, [87, 74]), (22670, [78, 90]),
]

# ---- zoomed side panels (sample index, proportion) ----
stance_zoom = [
    (-0.58, 94.9), (-0.18, 100), (0.2, 100), (0.6, 100), (1.0, 100), (1.4, 100), (1.8, 100),
    (2.2, 99.95), (2.6, 99.85), (3.4, 99.25), (4.0, 99.1), (4.6, 100), (5.0, 100), (5.4, 100),
    (5.8, 99.75), (6.3, 100), (6.7, 100), (7.1, 100), (7.7, 99.6), (8.2, 99.45), (8.6, 100),
    (9.0, 100), (9.5, 99.05), (10.0, 99.95), (10.4, 99.95), (10.8, 100), (11.2, 100),
    (11.6, 100), (12.0, 100), (12.4, 99.0), (12.8, 99.5), (13.2, 100), (13.6, 100),
    (14.0, 100), (14.4, 100), (14.9, 99.3), (15.4, 99.1), (15.8, 100), (16.2, 100),
    (16.6, 99.9), (17.0, 100), (17.4, 100), (17.6, 99.1), (17.8, 100), (18.2, 100),
    (18.6, 100), (18.9, 96.6), (19.0, 100), (19.4, 100),
]
swing_zoom = [
    (-0.16, 74.0), (0.0, 80.8), (0.43, 86.9), (0.7, 88.0), (0.97, 92.4), (1.24, 92.8),
    (1.51, 93.0), (1.73, 84.4), (2.16, 95.6), (2.7, 93.9), (3.13, 82.2), (3.35, 88.2),
    (3.67, 69.8), (3.9, 77.8), (4.16, 82.7), (4.43, 83.0), (4.65, 68.2), (4.86, 81.0),
    (5.13, 88.2), (5.5, 85.7), (5.83, 87.6), (6.05, 89.3), (6.27, 89.6), (6.48, 84.7),
    (6.8, 84.4), (7.0, 70.7), (7.24, 82.7), (7.45, 86.2), (7.78, 94.1), (8.0, 94.2),
    (8.21, 90.1), (8.64, 85.7), (8.97, 74.5), (9.24, 93.0), (9.5, 90.6), (10.0, 79.9),
    (10.5, 72.4), (10.7, 80.8), (11.0, 93.7), (11.34, 71.8), (11.45, 82.0), (12.0, 95.0),
    (12.4, 85.8), (12.9, 87.1), (13.2, 95.0), (13.5, 90.1), (14.1, 83.8), (14.5, 85.4),
    (14.8, 69.1), (15.0, 79.7), (15.3, 82.7), (15.8, 79.1), (16.3, 94.5), (16.5, 94.5),
    (16.7, 87.3), (17.3, 65.0), (17.5, 71.8), (17.7, 94.2), (18.0, 81.6), (18.2, 68.5),
]

x_ticks = [0, 5000, 10000, 15000, 20000]
x_tick_labels = ['0', '0.5', '1', '1.5', '2']


def flatten(*groups):
    t, p = [], []
    for group in groups:
        for x, ys in group:
            t += [x] * len(ys)
            p += ys
    return t, p


AX_COLOR = '#262626'
LIMIT_STYLE = dict(color='red', lw=2, alpha=0.72, ls=(0, (3.6, 0.9, 0.9, 0.9)), zorder=3)
DOT_STYLE = dict(ls='none', marker='o', ms=3.3, mew=0, color='black', zorder=2)


def style_axes(ax, pad_y):
    for s in ax.spines.values():
        s.set_color(AX_COLOR)
        s.set_linewidth(0.8)
    ax.tick_params(direction='in', top=True, right=True, length=4.5, width=0.8,
                   colors=AX_COLOR, labelsize=13.5)
    ax.tick_params(axis='y', pad=pad_y)
    ax.tick_params(axis='x', pad=9)


fig = plt.figure(figsize=(8.06, 5.06), dpi=100)

# stance
ax1 = fig.add_axes([0.0980, 0.6739, 0.7171, 0.3024])
ax1.plot(stance_idle_t, [0] * len(stance_idle_t), clip_on=False, **DOT_STYLE)
t, p = flatten(stance_first, stance_second, stance_plateau, stance_steady)
ax1.plot(t, p, clip_on=False, **DOT_STYLE)
ax1.plot([d[0] for d in stance_dips], [d[1] for d in stance_dips], clip_on=False, **DOT_STYLE)
ax1.axhline(STANCE_LIMIT, **LIMIT_STYLE)
ax1.set_xlim(0, 22710)
ax1.set_ylim(0, 100)
ax1.set_xticks(x_ticks, x_tick_labels)
ax1.set_yticks([0, 50, 100])
style_axes(ax1, 7)

# swing
ax2 = fig.add_axes([0.0980, 0.1937, 0.7171, 0.3004])
ax2.plot(swing_idle_t, [0] * len(swing_idle_t), clip_on=False, **DOT_STYLE)
t, p = flatten(swing_early, swing_early_fill, swing_middle, swing_middle_fill,
               swing_late, swing_final, swing_final_fill)
ax2.plot(t, p, clip_on=False, **DOT_STYLE)
ax2.plot([d[0] for d in swing_arc], [d[1] for d in swing_arc], clip_on=False, **DOT_STYLE)
ax2.axhline(SWING_LIMIT, **LIMIT_STYLE)
ax2.set_xlim(0, 22710)
ax2.set_ylim(0, 100)
ax2.set_xticks(x_ticks, x_tick_labels)
ax2.set_yticks([0, 50, 100])
style_axes(ax2, 7)

# side panels (cut by the figure edge)
ax3 = fig.add_axes([0.8573, 0.6739, 0.2593, 0.3063])
ax3.plot([d[0] for d in stance_zoom], [d[1] for d in stance_zoom], **DOT_STYLE)
ax3.axhline(STANCE_LIMIT, **LIMIT_STYLE)
ax3.set_xlim(-0.88, 36)
ax3.set_ylim(92.12, 101.33)
ax3.set_xticks([0, 10, 20, 30], [])
ax3.set_yticks([94, 96, 98, 100])
style_axes(ax3, 3)

ax4 = fig.add_axes([0.8582, 0.1931, 0.2316, 0.2984])
ax4.plot([d[0] for d in swing_zoom], [d[1] for d in swing_zoom], **DOT_STYLE)
ax4.axhline(SWING_LIMIT, **LIMIT_STYLE)
ax4.set_xlim(-0.26, 30)
ax4.set_ylim(52.7, 102.2)
ax4.set_xticks([0, 10, 20], [])
ax4.set_yticks([60, 80, 100])
style_axes(ax4, 3)

# labels
for y_px in (203, 447):
    fig.text(600 / 806, 1 - y_px / 506, r'$\times10^{4}$', fontsize=15.5, color=AX_COLOR,
             ha='left', va='center')
fig.text(367 / 806, 1 - 218 / 506, 'stance', fontsize=16.5, color=AX_COLOR,
         ha='center', va='baseline')
fig.text(367 / 806, 1 - 467 / 506, 'swing', fontsize=16.5, color=AX_COLOR,
         ha='center', va='baseline')
fig.text(367 / 806, 1 - 496 / 506, 'time [s]', fontsize=14.5, color=AX_COLOR,
         ha='center', va='baseline')
fig.text(21 / 806, 1 - 255 / 506, 'spinal cord control proportion [%]', fontsize=13.5,
         color=AX_COLOR, rotation=90, ha='center', va='center')

fig.savefig('out.png', dpi=100)
